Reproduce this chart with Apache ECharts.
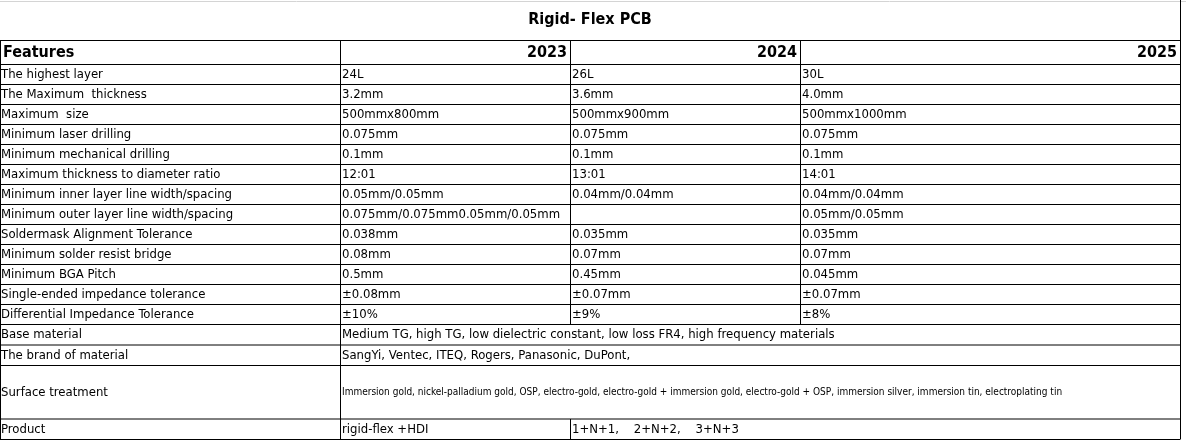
<!DOCTYPE html>
<html><head><meta charset="utf-8">
<script src="https://cdn.jsdelivr.net/npm/echarts@6/dist/echarts.min.js"></script>
<style>html,body{margin:0;padding:0;background:#fff}#c{width:1186px;height:441px}</style>
</head><body><div id="c"></div>
<script>
const title = 'Rigid- Flex PCB';
const years = ['2023', '2024', '2025'];
const features = ['The highest layer', 'The Maximum  thickness', 'Maximum  size', 'Minimum laser drilling',
  'Minimum mechanical drilling', 'Maximum thickness to diameter ratio', 'Minimum inner layer line width/spacing',
  'Minimum outer layer line width/spacing', 'Soldermask Alignment Tolerance', 'Minimum solder resist bridge',
  'Minimum BGA Pitch', 'Single-ended impedance tolerance', 'Differential Impedance Tolerance'];
const v2023 = ['24L', '3.2mm', '500mmx800mm', '0.075mm', '0.1mm', '12:01', '0.05mm/0.05mm',
  '0.075mm/0.075mm0.05mm/0.05mm', '0.038mm', '0.08mm', '0.5mm', '±0.08mm', '±10%'];
const v2024 = ['26L', '3.6mm', '500mmx900mm', '0.075mm', '0.1mm', '13:01', '0.04mm/0.04mm',
  '', '0.035mm', '0.07mm', '0.45mm', '±0.07mm', '±9%'];
const v2025 = ['30L', '4.0mm', '500mmx1000mm', '0.075mm', '0.1mm', '14:01', '0.04mm/0.04mm',
  '0.05mm/0.05mm', '0.035mm', '0.07mm', '0.045mm', '±0.07mm', '±8%'];
const baseMaterial = 'Medium TG, high TG, low dielectric constant, low loss FR4, high frequency materials';
const brands = 'SangYi, Ventec, ITEQ, Rogers, Panasonic, DuPont,';
const surface = 'Immersion gold, nickel-palladium gold, OSP, electro-gold, electro-gold + immersion gold, electro-gold + OSP, immersion silver, immersion tin, electroplating tin';
const product = ['rigid-flex +HDI', '1+N+1,    2+N+2,    3+N+3'];

const FONT = '"Liberation Sans Narrow", "DejaVu Sans Condensed", sans-serif';
const colX = [0, 340, 570, 800, 1180];
const g = [];
const line = (x1, y1, x2, y2, c) => g.push({ type: 'line', shape: { x1, y1, x2, y2 }, style: { stroke: c || '#000', lineWidth: 1 } });
const text = (x, y, t, o) => g.push({ type: 'text', x, y, style: Object.assign({ text: t, font: '13px ' + FONT, fill: '#000', textVerticalAlign: 'middle' }, o || {}) });

line(0, 1.5, 1186, 1.5, '#d4d4d4');
text(590, 20, title, { font: 'bold 16px ' + FONT, textAlign: 'center' });
// header
const hTop = 40.5, hBot = 64.5;
line(0, hTop, 1180, hTop);
text(3, 53, 'Features', { font: 'bold 16px ' + FONT });
years.forEach((y, i) => text(colX[i + 2] - 3, 53, y, { font: 'bold 16px ' + FONT, textAlign: 'right' }));
// rows
const rowsY = [hBot];
features.forEach((f, i) => {
  const t = hBot + i * 20, b = t + 20;
  rowsY.push(b);
  text(1, t + 10, f);
  text(colX[1] + 2, t + 10, v2023[i]);
  text(colX[2] + 2, t + 10, v2024[i]);
  text(colX[3] + 2, t + 10, v2025[i]);
});
let y0 = rowsY[rowsY.length - 1];
const spans = [
  ['Base material', 20.5, [[1, baseMaterial]]],
  ['The brand of material', 20.5, [[1, brands]]],
  ['Surface treatment', 53.5, [[1, surface, '10px']]],
  ['Product', 20.5, [[1, product[0]], [2, product[1]]]]
];
spans.forEach(([name, h, cells]) => {
  text(1, y0 + h / 2, name);
  cells.forEach(([c, t, fs]) => text(colX[c] + 2, y0 + h / 2, t, fs ? { font: fs + ' ' + FONT } : {}));
  y0 += h;
  rowsY.push(y0);
});
// horizontal lines
rowsY.forEach(y => line(0, y, 1180, y));
// vertical lines
line(0.5, hTop, 0.5, y0);
line(1180.5, 0, 1180.5, y0);
[1, 2, 3].forEach(c => line(colX[c] + 0.5, hTop, colX[c] + 0.5, rowsY[13]));
line(colX[1] + 0.5, rowsY[13], colX[1] + 0.5, y0);
line(colX[2] + 0.5, rowsY[16], colX[2] + 0.5, y0);

const chart = echarts.init(document.getElementById('c'));
chart.setOption({ animation: false, graphic: g });
</script></body></html>
